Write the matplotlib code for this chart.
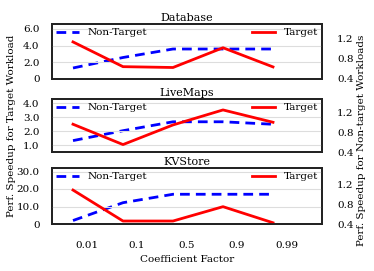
import matplotlib
matplotlib.use("Agg")
import matplotlib.pyplot as plt
import numpy as np

plt.rcParams['font.family'] = ['DejaVu Serif']

factors = ["0.01", "0.1", "0.5", "0.9", "0.99"]
titles = ["Database", "LiveMaps", "KVStore"]

target_db = [4.45, 1.48, 1.38, 3.75, 1.45]
nontarget_db = [0.62, 0.83, 1.0, 1.0, 1.0]
target_lm = [2.5, 1.05, 2.45, 3.52, 2.64]
nontarget_lm = [0.63, 0.83, 1.01, 1.01, 0.96]
target_kv = [19.4, 1.7, 1.7, 9.9, 0.7]
nontarget_kv = [0.47, 0.83, 1.0, 1.0, 1.0]

targets = [target_db, target_lm, target_kv]
nontargets = [nontarget_db, nontarget_lm, nontarget_kv]
left_ticks = [[0, 2.0, 4.0, 6.0], [1.0, 2.0, 3.0, 4.0], [0, 10.0, 20.0, 30.0]]
left_ticklabels = [["0", "2.0", "4.0", "6.0"], ["1.0", "2.0", "3.0", "4.0"],
                   ["0", "10.0", "20.0", "30.0"]]
left_lims = [(0, 6.6), (0.52, 4.3), (0, 32)]
right_ticks = [0.4, 0.8, 1.2]
right_lims = [(0.4, 1.5), (0.4, 1.47), (0.4, 1.53)]

fig = plt.figure(figsize=(3.74, 2.71), dpi=100)
W = 374.0
H = 271.0
boxes = [(24, 79), (99, 152), (168, 224)]
x = np.arange(len(factors))
fs = 7.5
for i in range(3):
    top, bot = boxes[i]
    ax = fig.add_axes([52 / W, 1 - bot / H, 270 / W, (bot - top) / H])
    ax2 = ax.twinx()
    ax.set_zorder(ax2.get_zorder() + 1)
    ax.patch.set_visible(False)
    ax.set_ylim(*left_lims[i])
    ax2.set_ylim(*right_lims[i])
    ax.set_yticks(left_ticks[i])
    ax.set_yticklabels(left_ticklabels[i], fontsize=fs)
    ax2.set_yticks(right_ticks)
    ax2.set_yticklabels(["0.4", "0.8", "1.2"], fontsize=fs)
    ax.set_xlim(-0.42, 4.98)
    ax.grid(axis='y', color='#dddddd', lw=0.8)
    ax.set_axisbelow(True)
    l2, = ax2.plot(x, nontargets[i], color='blue', ls=(0, (3.5, 2.2)), lw=2,
                   label='Non-Target')
    l1, = ax.plot(x, targets[i], color='red', lw=2, label='Target')
    ax.tick_params(axis='y', length=0, pad=9)
    ax2.tick_params(axis='y', length=0, pad=11)
    for a in (ax, ax2):
        for s in a.spines.values():
            s.set_linewidth(1.3)
            s.set_color('#222222')
    leg1 = ax.legend([l2], ['Non-Target'], loc='upper left', frameon=False,
                     fontsize=fs, handlelength=2.2, borderaxespad=0.2,
                     borderpad=0.2, handletextpad=0.8)
    ax.add_artist(leg1)
    ax.legend([l1], ['Target'], loc='upper right', frameon=False,
              fontsize=fs, handlelength=2.2, borderaxespad=0.2,
              borderpad=0.2, handletextpad=0.8)
    ax.set_title(titles[i], fontsize=8, pad=2.5)
    if i == 2:
        ax.set_xticks(x + 0.28)
        ax.set_xticklabels(factors, fontsize=fs)
        ax.tick_params(axis='x', length=0, pad=12)
        ax.set_xlabel("Coefficient Factor", fontsize=fs, labelpad=4)
    else:
        ax.set_xticks([])

fig.text(12 / W, 1 - 126 / H, "Perf. Speedup for Target Workload", rotation=90,
         ha='center', va='center', fontsize=fs)
fig.text(361 / W, 1 - 140 / H, "Perf. Speedup for Non-target Workloads",
         rotation=90, ha='center', va='center', fontsize=fs)

fig.savefig("out.png", dpi=100)
